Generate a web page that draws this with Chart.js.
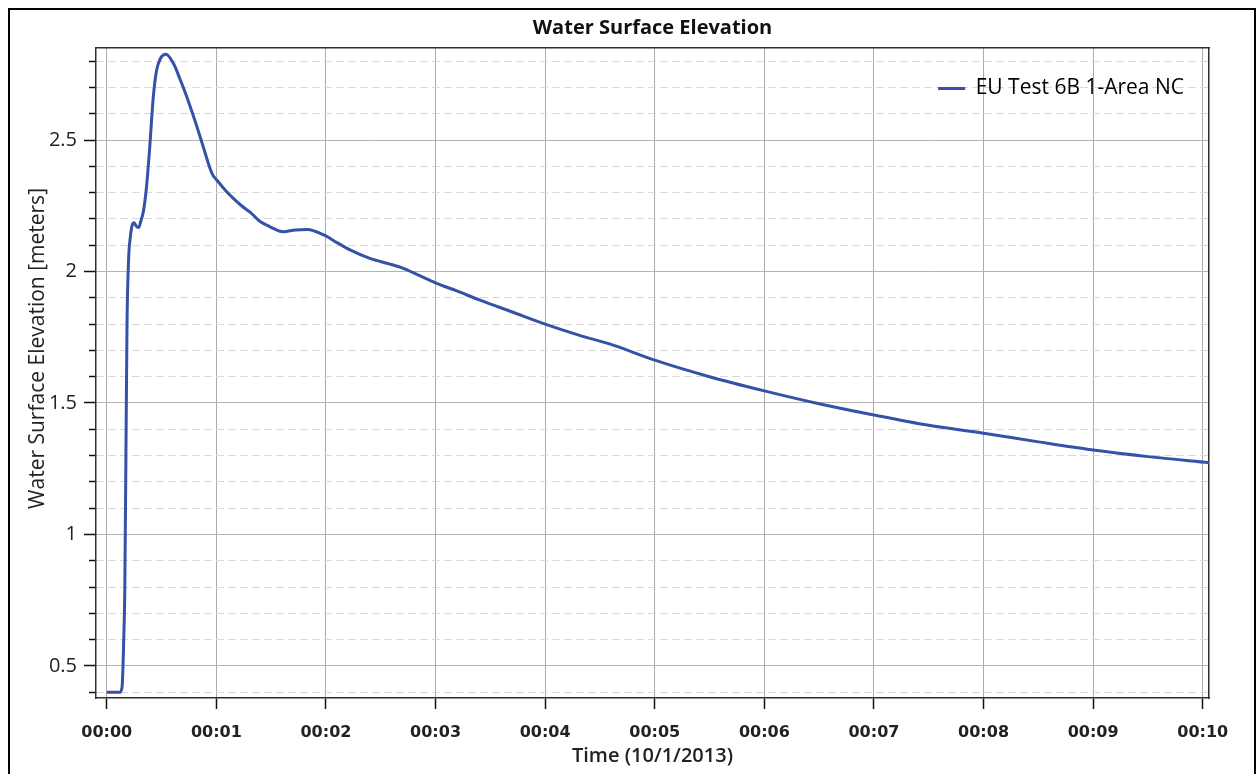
<!DOCTYPE html>
<html>
<head>
<meta charset="utf-8">
<script src="https://cdn.jsdelivr.net/npm/chart.js@4.4.1/dist/chart.umd.min.js"></script>
<style>
  html, body { margin: 0; padding: 0; background: #fff; }
  #wrap { width: 1259px; height: 774px; }
</style>
</head>
<body>
<div id="wrap"><canvas id="wseChart" width="1259" height="774"></canvas></div>
<script>
// minutes after 00:00 on 10/1/2013
const timeMinutes = [
  0, 0.06, 0.12, 0.14, 0.155, 0.165, 0.175, 0.185, 0.2, 0.215,
  0.235, 0.25, 0.27, 0.29, 0.31, 0.335, 0.36, 0.39, 0.425, 0.455,
  0.49, 0.54, 0.61, 0.67, 0.73, 0.8, 0.88, 0.94, 0.97, 1.0, 1.08,
  1.155, 1.23, 1.31, 1.4, 1.49, 1.61, 1.72, 1.83, 1.98, 2.1,
  2.22, 2.4, 2.585, 2.706, 2.85, 3.0, 3.2, 3.4, 3.7, 4.0,
  4.3, 4.62, 5.0, 5.5, 6.0, 6.5, 7.0, 7.5, 8.0, 8.5,
  9.0, 9.5, 10.06
];
// water surface elevation in meters
const elevation = [
  0.40, 0.40, 0.40, 0.42, 0.60, 0.80, 1.30, 1.80, 2.05, 2.13,
  2.18, 2.185, 2.172, 2.167, 2.19, 2.23, 2.31, 2.46, 2.665, 2.765,
  2.81, 2.826, 2.79, 2.73, 2.665, 2.58, 2.475, 2.395, 2.365, 2.35, 2.31,
  2.278, 2.25, 2.225, 2.19, 2.17, 2.151, 2.158, 2.16, 2.139, 2.11,
  2.082, 2.05, 2.028, 2.012, 1.985, 1.957, 1.925, 1.892, 1.846, 1.80,
  1.759, 1.72, 1.663, 1.60, 1.546, 1.497, 1.454, 1.415, 1.385, 1.352,
  1.321, 1.296, 1.273
];

const xTickLabels = ['00:00', '00:01', '00:02', '00:03', '00:04', '00:05',
  '00:06', '00:07', '00:08', '00:09', '00:10'];
const yMajorValues = [0.5, 1, 1.5, 2, 2.5];
const yTickLabels = ['0.5', '1', '1.5', '2', '2.5'];

const seriesName = 'EU Test 6B 1-Area NC';
const lineColor = '#3551a8';

const isMajor = v => yMajorValues.some(m => Math.abs(m - v) < 1e-6);

// outer black frame around the whole picture
const framePlugin = {
  id: 'frame',
  afterDraw(chart) {
    const ctx = chart.ctx;
    ctx.save();
    ctx.strokeStyle = '#000';
    ctx.lineWidth = 2;
    ctx.beginPath();
    ctx.moveTo(9, 780);
    ctx.lineTo(9, 9);
    ctx.lineTo(1255, 9);
    ctx.lineTo(1255, 780);
    ctx.stroke();
    ctx.restore();
  }
};

// chartArea legends stack down the left side; move it to the top right corner
const legendCorner = {
  id: 'legendCorner',
  afterLayout(chart) {
    const lg = chart.legend;
    const area = chart.chartArea;
    if (!lg) return;
    lg.left = area.right - lg.width - 15;
    lg.right = lg.left + lg.width;
    lg.top = area.top + 4;
    lg.bottom = lg.top + lg.height;
  }
};

const points = timeMinutes.map((t, i) => ({ x: t, y: elevation[i] }));

const xMin = -0.098, xMax = 10.057;
const yMin = 0.378, yMax = 2.85;
const boxColor = '#2e2e2e';

new Chart(document.getElementById('wseChart'), {
  type: 'line',
  data: {
    datasets: [{
      label: seriesName,
      data: points,
      borderColor: lineColor,
      backgroundColor: lineColor,
      borderWidth: 3,
      pointRadius: 0,
      cubicInterpolationMode: 'monotone',
      xAxisID: 'x',
      yAxisID: 'y'
    }]
  },
  options: {
    responsive: false,
    animation: false,
    layout: { padding: { left: 0, right: 50, top: 0, bottom: 0 } },
    plugins: {
      title: {
        display: true,
        fullSize: false,
        text: 'Water Surface Elevation',
        color: '#111',
        font: { family: 'Open Sans', size: 20, weight: 'bold' },
        padding: { top: 16, bottom: 8 }
      },
      legend: {
        position: 'chartArea',
        align: 'start',
        labels: {
          boxWidth: 27,
          boxHeight: 3,
          padding: 26,
          color: '#222',
          font: { family: 'Open Sans', size: 21 },
          generateLabels: () => [{
            text: seriesName,
            fillStyle: lineColor,
            strokeStyle: lineColor,
            lineWidth: 0,
            hidden: false,
            datasetIndex: 0
          }]
        }
      },
      tooltip: { enabled: false }
    },
    scales: {
      x: {
        type: 'linear',
        position: 'bottom',
        min: xMin,
        max: xMax,
        afterFit: s => { s.height = 76; },
        ticks: {
          stepSize: 1,
          includeBounds: false,
          autoSkip: false,
          maxRotation: 0,
          padding: 14,
          color: '#222',
          font: { family: 'DejaVu Sans', size: 16, weight: 'bold' },
          callback: v => xTickLabels[Math.round(v)]
        },
        grid: {
          color: '#ababab',
          lineWidth: 1,
          tickColor: '#111',
          tickLength: 11,
          tickWidth: 1.5
        },
        border: { display: true, color: boxColor, width: 1.5 },
        title: {
          display: true,
          text: 'Time (10/1/2013)',
          color: '#222',
          font: { family: 'Open Sans', size: 20, weight: '600' },
          padding: { top: 0, bottom: 6 }
        }
      },
      xTop: {
        type: 'linear',
        position: 'top',
        min: xMin,
        max: xMax,
        display: true,
        ticks: { display: false, stepSize: 1, includeBounds: false },
        grid: { display: false, drawTicks: false },
        border: { display: true, color: boxColor, width: 1.5 }
      },
      y: {
        type: 'linear',
        position: 'left',
        min: yMin,
        max: yMax,
        afterFit: s => { s.width = 96; },
        ticks: {
          stepSize: 0.1,
          includeBounds: false,
          autoSkip: false,
          padding: 7,
          color: '#222',
          font: { family: 'Open Sans', size: 20 },
          callback: v => {
            const k = yMajorValues.findIndex(m => Math.abs(m - v) < 1e-6);
            return k >= 0 ? yTickLabels[k] : '';
          }
        },
        grid: {
          color: c => isMajor(c.tick.value) ? '#b4b4b4' : 'rgba(0,0,0,0)',
          lineWidth: 1,
          tickColor: '#111',
          tickLength: 12,
          tickWidth: 1.5,
          tickBorderDash: c => isMajor(c.tick.value) ? [] : [7, 5],
          tickBorderDashOffset: c => isMajor(c.tick.value) ? 0 : 7
        },
        border: { display: true, color: boxColor, width: 1.5 },
        title: {
          display: true,
          // leading spaces lift the label a little above the axis middle, as in the original
          text: '\u00a0'.repeat(9) + 'Water Surface Elevation [meters]',
          color: '#222',
          font: { family: 'Open Sans', size: 21 },
          padding: { top: 25, bottom: 0 }
        }
      },
      yMinor: {
        type: 'linear',
        position: 'right',
        min: yMin,
        max: yMax,
        display: true,
        ticks: { display: false, stepSize: 0.1, includeBounds: false, autoSkip: false },
        grid: {
          drawTicks: false,
          color: c => isMajor(c.tick.value) ? 'rgba(0,0,0,0)' : '#d9d9d9',
          lineWidth: 1
        },
        border: { display: true, color: boxColor, width: 1.5, dash: [8, 4] }
      }
    }
  },
  plugins: [framePlugin, legendCorner]
});
</script>
</body>
</html>
